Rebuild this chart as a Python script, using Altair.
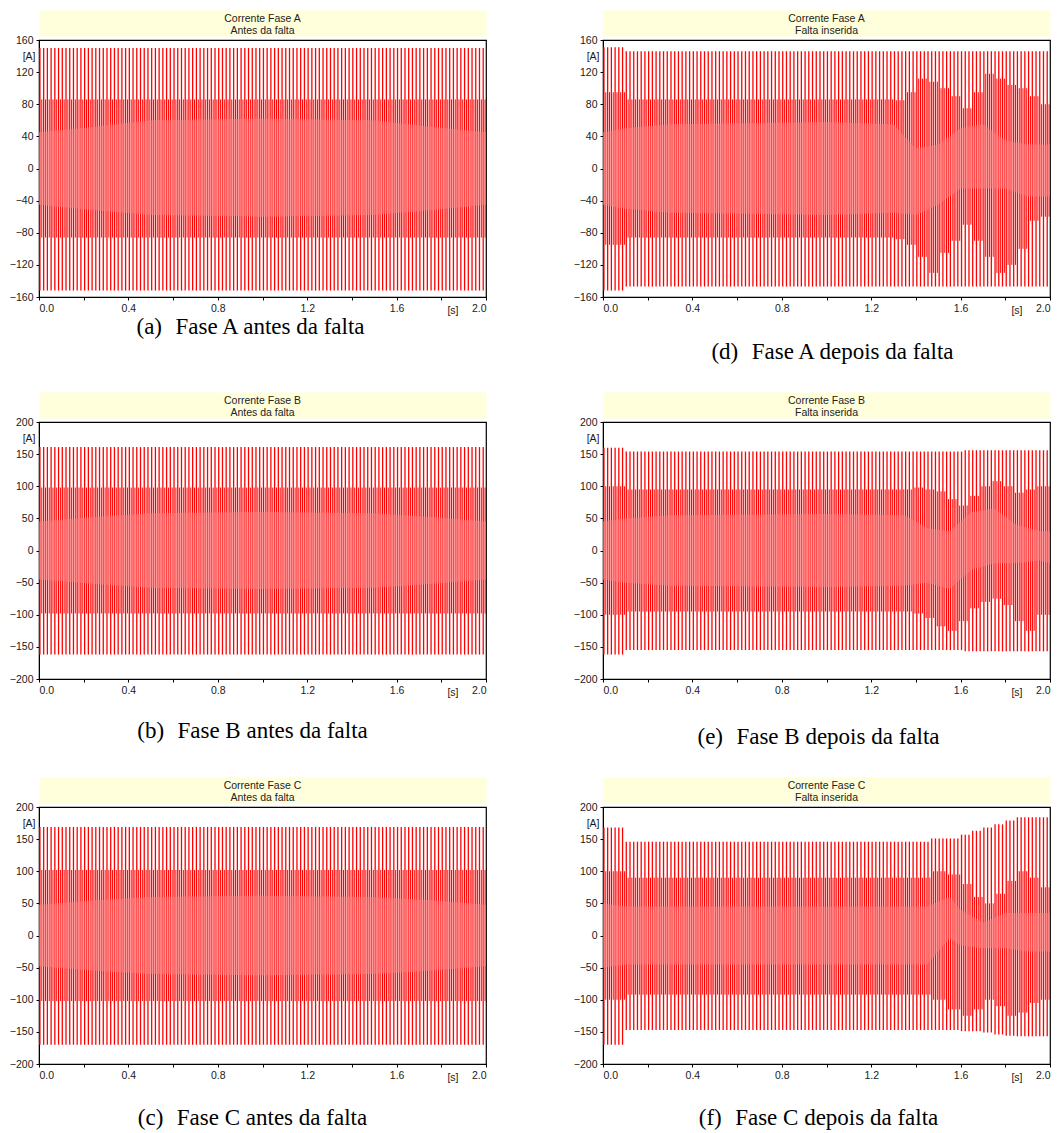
import altair as alt
import pandas as pd

# ---------------- data ----------------
N_CYCLES = 120          # 60 Hz over 2 s
F_HZ = 60.0

x_ticks = [0.0, 0.2, 0.4, 0.6, 0.8, 1.0, 1.2, 1.4, 1.6, 1.8, 2.0]
y_ticks_160 = [-160, -120, -80, -40, 0, 40, 80, 120, 160]
y_ticks_200 = [-200, -150, -100, -50, 0, 50, 100, 150, 200]

# run-length lists: (number of cycles, peak value)
a_pos = [(120, 150)]
a_neg = [(120, -152)]
a_mid_hi = [(120, 86)]
a_mid_lo = [(120, -86)]
a_band_t = [0.0, 0.25, 0.5, 1.0, 1.5, 1.75, 2.0]
a_band_hi = [45, 52, 60, 62, 60, 52, 45]
a_band_lo = [-45, -52, -58, -60, -58, -52, -45]

b_pos = [(120, 161)]
b_neg = [(120, -162)]
b_mid_hi = [(120, 98)]
b_mid_lo = [(120, -98)]
b_band_t = [0.0, 0.25, 0.5, 1.0, 1.5, 1.75, 2.0]
b_band_hi = [45, 52, 58, 60, 58, 52, 45]
b_band_lo = [-45, -52, -58, -60, -58, -52, -45]

c_pos = [(120, 169)]
c_neg = [(120, -170)]
c_mid_hi = [(120, 102)]
c_mid_lo = [(120, -102)]
c_band_t = [0.0, 0.25, 0.5, 1.0, 1.5, 1.75, 2.0]
c_band_hi = [48, 55, 60, 62, 60, 55, 48]
c_band_lo = [-48, -55, -60, -62, -60, -55, -48]

d_pos = [(6, 151), (114, 146)]
d_neg = [(6, -152), (114, -147)]
d_mid_hi = [(6, 95), (72, 86), (3, 85), (3, 95), (3, 112), (3, 108), (3, 100),
            (3, 90), (3, 75), (3, 95), (3, 118), (3, 112), (3, 104), (3, 100),
            (3, 90), (3, 80)]
d_mid_lo = [(6, -95), (72, -86), (3, -88), (3, -95), (3, -110), (3, -130), (3, -105),
            (3, -90), (3, -70), (3, -90), (3, -110), (3, -130), (3, -120), (3, -100),
            (3, -65), (3, -60)]
d_band_t = [0.0, 0.1, 0.3, 1.0, 1.3, 1.4, 1.5, 1.6, 1.7, 1.8, 1.9, 2.0]
d_band_hi = [45, 50, 55, 58, 55, 25, 30, 50, 55, 35, 30, 30]
d_band_lo = [-45, -50, -55, -58, -55, -58, -45, -25, -25, -25, -35, -35]

e_pos = [(6, 160), (91, 154), (23, 156)]
e_neg = [(6, -162), (91, -155), (23, -157)]
e_mid_hi = [(6, 100), (77, 95), (3, 98), (3, 95), (3, 92), (3, 80), (3, 70),
            (3, 85), (3, 100), (3, 108), (3, 100), (3, 90), (3, 95), (4, 100)]
e_mid_lo = [(6, -100), (77, -95), (3, -98), (3, -105), (3, -118), (3, -125), (3, -110),
            (3, -90), (3, -80), (3, -75), (3, -85), (3, -110), (3, -125), (4, -100)]
e_band_t = [0.0, 0.1, 0.3, 1.0, 1.35, 1.45, 1.55, 1.65, 1.75, 1.85, 1.95, 2.0]
e_band_hi = [45, 50, 55, 57, 55, 35, 30, 60, 65, 40, 30, 30]
e_band_lo = [-45, -50, -55, -57, -55, -50, -60, -30, -20, -20, -15, -20]

f_pos = [(6, 168), (82, 146), (8, 151), (3, 157), (3, 163), (3, 168), (3, 173), (3, 179), (9, 184)]
f_neg = [(6, -170), (90, -147), (6, -149), (3, -151), (3, -154), (3, -156), (9, -157)]
f_mid_hi = [(6, 100), (82, 90), (4, 100), (4, 95), (3, 80), (3, 60), (3, 50),
            (3, 65), (3, 85), (3, 100), (3, 90), (3, 75)]
f_mid_lo = [(6, -100), (82, -92), (4, -100), (4, -115), (3, -125), (3, -115), (3, -100),
            (3, -110), (3, -125), (3, -120), (3, -105), (3, -100)]
f_band_t = [0.0, 0.1, 0.3, 1.0, 1.45, 1.55, 1.6, 1.7, 1.8, 1.9, 2.0]
f_band_hi = [50, 45, 45, 45, 45, 60, 40, 20, 35, 35, 35]
f_band_lo = [-50, -45, -45, -45, -45, -5, -15, -20, -20, -25, -25]

headers = {
    "a": ["Corrente Fase A", "Antes da falta"],
    "b": ["Corrente Fase B", "Antes da falta"],
    "c": ["Corrente Fase C", "Antes da falta"],
    "d": ["Corrente Fase A", "Falta inserida"],
    "e": ["Corrente Fase B", "Falta inserida"],
    "f": ["Corrente Fase C", "Falta inserida"],
}
GAP = "\u2002\u200a"
captions = {
    "a": "(a)" + GAP + "Fase A antes da falta",
    "b": "(b)" + GAP + "Fase B antes da falta",
    "c": "(c)" + GAP + "Fase C antes da falta",
    "d": "(d)" + GAP + "Fase A depois da falta",
    "e": "(e)" + GAP + "Fase B depois da falta",
    "f": "(f)" + GAP + "Fase C depois da falta",
}

series = {
    "a": (a_pos, a_neg, a_mid_hi, a_mid_lo, a_band_t, a_band_hi, a_band_lo, 160, y_ticks_160),
    "b": (b_pos, b_neg, b_mid_hi, b_mid_lo, b_band_t, b_band_hi, b_band_lo, 200, y_ticks_200),
    "c": (c_pos, c_neg, c_mid_hi, c_mid_lo, c_band_t, c_band_hi, c_band_lo, 200, y_ticks_200),
    "d": (d_pos, d_neg, d_mid_hi, d_mid_lo, d_band_t, d_band_hi, d_band_lo, 160, y_ticks_160),
    "e": (e_pos, e_neg, e_mid_hi, e_mid_lo, e_band_t, e_band_hi, e_band_lo, 200, y_ticks_200),
    "f": (f_pos, f_neg, f_mid_hi, f_mid_lo, f_band_t, f_band_hi, f_band_lo, 200, y_ticks_200),
}

# ---------------- layout / style ----------------
W, H, HDR_H = 447, 257, 26
RED = "#ff0000"
SANS = "Liberation Sans"
SERIF = "Liberation Serif"
cap_offset = {"a": 0, "b": 22, "c": 24, "d": 25, "e": 28, "f": 24}
cap_dx = {"a": -12, "b": -10, "c": -10, "d": 6, "e": -8, "f": -8}


def expand(runs):
    out = []
    for n, v in runs:
        out += [v] * n
    return out


def panel(key):
    pos, neg, mhi, mlo, bt, bhi, blo, ymax, yticks = series[key]
    cyc = pd.DataFrame({
        "t": [(i + 0.25) / F_HZ for i in range(N_CYCLES)],
        "tm": [(i + 0.75) / F_HZ for i in range(N_CYCLES)],
        "pos": expand(pos),
        "neg": expand(neg),
        "mhi": expand(mhi),
        "mlo": expand(mlo),
    })
    band = pd.DataFrame({"t": bt, "hi": bhi, "lo": blo})

    xs = alt.Scale(domain=[0, 2], nice=False, zero=False)
    ys = alt.Scale(domain=[-ymax, ymax], nice=False)
    xaxis = alt.Axis(
        values=x_ticks,
        labelExpr="(round(datum.value*10) % 4 == 0) ? format(datum.value, '.1f') : ''",
        grid=False, tickSize=3, tickColor="black", domainColor="black",
        labelFont=SANS, labelFontSize=10.5, labelColor="#1a1a1a", labelPadding=3,
        labelOverlap=False,
        title="[s]", titleFont=SANS, titleFontSize=10.5, titleFontWeight="normal",
        titleColor="#1a1a1a", titleX=W * 0.925, titleY=13, titleBaseline="middle",
        titleAlign="center",
    )
    yaxis = alt.Axis(
        values=yticks, grid=False, tickSize=3, tickColor="black", domainColor="black",
        labelFont=SANS, labelFontSize=10.5, labelColor="#1a1a1a", labelPadding=3,
        labelOverlap=False,
        title="[A]", titleFont=SANS, titleFontSize=10.5, titleFontWeight="normal",
        titleColor="#1a1a1a", titleAngle=0, titleX=-4, titleY=16,
        titleAlign="right", titleBaseline="middle",
    )

    base = alt.Chart(cyc)
    tall = base.mark_rule(color=RED, strokeWidth=1.3).encode(
        x=alt.X("t:Q", scale=xs, axis=xaxis),
        y=alt.Y("neg:Q", scale=ys, axis=yaxis),
        y2="pos:Q",
    )
    mid = base.mark_rule(color=RED, strokeWidth=1.0).encode(
        x=alt.X("tm:Q", scale=xs, axis=xaxis),
        y=alt.Y("mlo:Q", scale=ys, axis=yaxis),
        y2="mhi:Q",
    )
    pink = alt.Chart(band).mark_area(color="#ff8080", opacity=0.55).encode(
        x=alt.X("t:Q", scale=xs, axis=xaxis),
        y=alt.Y("lo:Q", scale=ys, axis=yaxis),
        y2="hi:Q",
    )
    plot = alt.layer(tall, mid, pink).properties(
        width=W, height=H,
        view=alt.ViewBackground(stroke="black", strokeWidth=1.2, fill="white"),
        title=alt.TitleParams(
            captions[key], orient="bottom", anchor="middle", font=SERIF,
            fontSize=23, fontWeight="normal", color="black",
            offset=cap_offset[key], dx=cap_dx[key],
        ),
    )

    hdr_df = pd.DataFrame({"u": [0.5], "v": [0.5], "txt": ["\n".join(headers[key])]})
    hdr = alt.Chart(hdr_df).mark_text(
        lineBreak="\n", font=SANS, fontSize=10.5, color="#222222",
        align="center", baseline="middle", lineHeight=12, dy=-4,
    ).encode(
        x=alt.X("u:Q", scale=alt.Scale(domain=[0, 1]), axis=None),
        y=alt.Y("v:Q", scale=alt.Scale(domain=[0, 1]), axis=None),
        text="txt:N",
    ).properties(
        width=W, height=HDR_H,
        view=alt.ViewBackground(fill="#ffffdc", stroke="transparent"),
    )
    return alt.vconcat(hdr, plot, spacing=4, bounds="flush")


rows = [
    alt.hconcat(panel(l), panel(r), spacing=84)
    for l, r in [("a", "d"), ("b", "e"), ("c", "f")]
]
chart = alt.vconcat(*rows, spacing=26).properties(
    padding={"left": 8, "top": 9, "right": 0, "bottom": 0},
    background="white",
)

chart.save("out.html", embed_options={"renderer": "svg", "actions": False})
